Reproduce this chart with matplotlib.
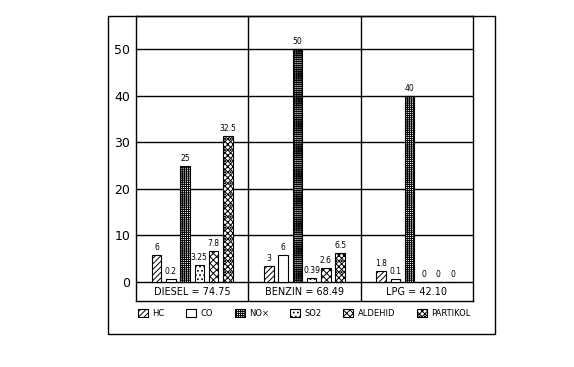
import numpy as np
import matplotlib
matplotlib.use("Agg")
import matplotlib.pyplot as plt
from matplotlib.patches import Patch, Rectangle

# ── Data ──────────────────────────────────────────────────────────────────────
groups      = ["DIESEL = 74.75", "BENZIN = 68.49", "LPG = 42.10"]
pollutants  = ["HC", "CO", "NO\u00d7", "SO2", "ALDEHID", "PARTIKOL"]

# bar heights as drawn (per pollutant, per group)
hc       = [5.8, 3.4, 2.4]
co       = [0.6, 5.8, 0.7]
nox      = [25.0, 50.0, 40.0]
so2      = [3.6, 0.9, 0.0]
aldehid  = [6.6, 3.1, 0.0]
partikol = [31.3, 6.3, 0.0]

# printed value labels
hc_lbl       = ["6", "3", "1.8"]
co_lbl       = ["0.2", "6", "0.1"]
nox_lbl      = ["25", "50", "40"]
so2_lbl      = ["3.25", "0.39", "0"]
aldehid_lbl  = ["7.8", "2.6", "0"]
partikol_lbl = ["32.5", "6.5", "0"]

yticks = [0, 10, 20, 30, 40, 50]

# ── Styles ────────────────────────────────────────────────────────────────────
series = [hc, co, nox, so2, aldehid, partikol]
labels = [hc_lbl, co_lbl, nox_lbl, so2_lbl, aldehid_lbl, partikol_lbl]
hatches = ["//////", "", "++++++++", "....", "xxxxx", "xxxxxx..."]

plt.rcParams["hatch.linewidth"] = 0.7
plt.rcParams["font.family"] = "DejaVu Sans"

fig = plt.figure(figsize=(5.74, 3.67), dpi=100, facecolor="white")
ax = fig.add_axes([0.2369, 0.1798, 0.5871, 0.7766])

x = np.arange(len(groups))
pitch, width = 0.127, 0.085

for i, (vals, lbls, h) in enumerate(zip(series, labels, hatches)):
    pos = x + (i - 2.5) * pitch
    bars = ax.bar(pos, vals, width, color="white", edgecolor="black",
                  hatch=h, linewidth=0.8, zorder=3)
    for b, v, t in zip(bars, vals, lbls):
        ax.annotate(t, (b.get_x() + b.get_width() / 2, v), xytext=(0, 2),
                    textcoords="offset points", ha="center", va="bottom",
                    fontsize=5.5, zorder=4)

ax.set_xlim(-0.5, 2.5)
ax.set_ylim(-4.08, 57.1)
ax.set_yticks(yticks)
ax.set_xticks([])
ax.tick_params(axis="y", length=0, pad=4, labelsize=9)
ax.grid(axis="y", color="black", linewidth=1.0, zorder=1)
for sep in [0.5, 1.5]:
    ax.axvline(sep, color="black", linewidth=1.0, zorder=1)
for sp in ax.spines.values():
    sp.set_linewidth(1.0)

for xi, g in zip(x, groups):
    ax.text(xi, -2.04, g, ha="center", va="center", fontsize=7)

# ── Legend ────────────────────────────────────────────────────────────────────
handles = [Patch(facecolor="white", edgecolor="black", hatch=h, linewidth=0.8)
           for h in hatches]
fig.legend(handles, pollutants, loc="center", bbox_to_anchor=(0.530, 0.147),
           ncol=6, frameon=False, fontsize=6, handlelength=1.2,
           handleheight=1.2, handletextpad=0.5, columnspacing=2.6)

# outer frame
fig.patches.append(Rectangle((0.1882, 0.0899), 0.6742, 0.8665,
                             transform=fig.transFigure, fill=False,
                             edgecolor="black", linewidth=1.0))

fig.savefig("out.png", dpi=100, facecolor="white")
